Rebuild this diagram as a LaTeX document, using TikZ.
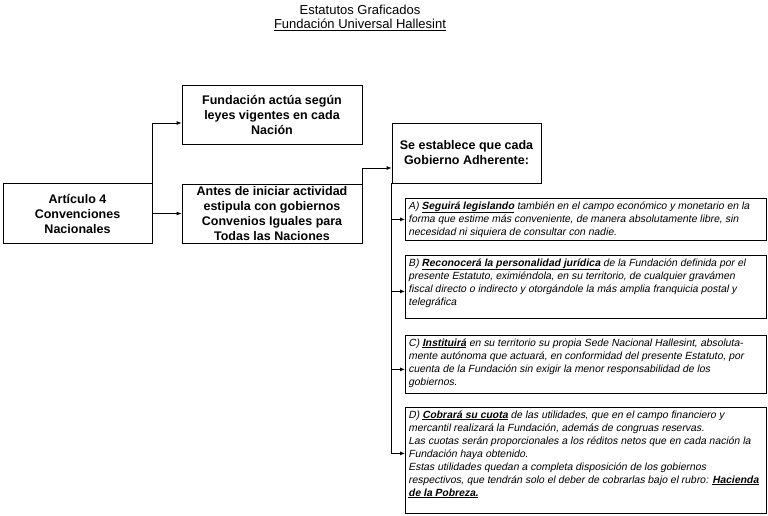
\documentclass[tikz,border=0pt]{standalone}
\usepackage{fontspec}
\setmainfont{Liberation Sans}
\newfontfamily\itemfont{Liberation Sans}[FakeSlant=0.2]
\usetikzlibrary{arrows.meta}
\definecolor{linecol}{HTML}{000000}
\newcommand{\keyw}[1]{\underline{\textbf{#1}}}

\begin{document}
\begin{tikzpicture}[x=1pt,y=-1pt,
	box/.style={draw=linecol,line width=0.8pt,align=center,inner sep=0pt,font=\fontsize{12.5}{15}\selectfont\bfseries},
	itembox/.style={draw=linecol,line width=0.8pt,anchor=north west,inner sep=3pt,font=\fontsize{10.4}{13}\selectfont\itemfont},
	conn/.style={draw=linecol,line width=0.8pt,-{Latex[length=5pt,width=4pt]}}]
\useasboundingbox (0,0) rectangle (768,515);
% title
\node[align=center,font=\fontsize{13}{14}\selectfont] (title) at (360,18) {Estatutos Graficados\\\underline{Fundación Universal Hallesint}};
% left column
\node[box,minimum width=149pt,minimum height=60pt] (art) at (77.5,213.5) {Artículo 4\\Convenciones\\Nacionales};
\node[box,minimum width=180pt,minimum height=59pt] (fund) at (272,114.5) {Fundación actúa según\\leyes vigentes en cada\\Nación};
\node[box,minimum width=180pt,minimum height=59pt] (antes) at (272,213.5) {Antes de iniciar actividad\\estipula con gobiernos\\Convenios Iguales para\\Todas las Naciones};
\node[box,minimum width=149pt,minimum height=60pt] (se) at (466.5,153) {Se establece que cada\\Gobierno Adherente:};
% items
\node[itembox] (itemA) at (405,198) {\parbox[c][36pt][t]{355pt}{%
A) \keyw{Seguirá legislando} también en el campo económico y monetario en la\\
forma que estime más conveniente, de manera absolutamente libre, sin\\
necesidad ni siquiera de consultar con nadie.}};
\node[itembox] (itemB) at (405,255) {\parbox[c][57pt][t]{355pt}{%
B) \keyw{Reconocerá la personalidad jurídica} de la Fundación definida por el\\
presente Estatuto, eximiéndola, en su territorio, de cualquier gravámen\\
fiscal directo o indirecto y otorgándole la más amplia franquicia postal y\\
telegráfica}};
\node[itembox] (itemC) at (405,335) {\parbox[c][52pt][t]{355pt}{%
C) \keyw{Instituirá} en su territorio su propia Sede Nacional Hallesint, absoluta-\\
mente autónoma que actuará, en conformidad del presente Estatuto, por\\
cuenta de la Fundación sin exigir la menor responsabilidad de los\\
gobiernos.}};
\node[itembox] (itemD) at (405,407) {\parbox[c][100pt][t]{355pt}{%
D) \keyw{Cobrará su cuota} de las utilidades, que en el campo financiero y\\
mercantil realizará la Fundación, además de congruas reservas.\\
Las cuotas serán proporcionales a los réditos netos que en cada nación la\\
Fundación haya obtenido.\\
Estas utilidades quedan a completa disposición de los gobiernos\\
respectivos, que tendrán solo el deber de cobrarlas bajo el rubro: \keyw{Hacienda}\\
\keyw{de la Pobreza.}}};
% connectors
\draw[conn] (art.east) -- (antes.west);
\draw[conn] (art.east) |- ([yshift=-8.5pt]fund.west);
\draw[conn] (antes.north east) |- ([yshift=-15pt]se.west);
\draw[conn] (se.south west) |- ([yshift=7pt]itemD.west);
\foreach \nm/\dy in {itemA/0,itemB/-4.5,itemC/-5}{
	\coordinate (tip) at ([yshift=\dy pt]\nm.west);
	\draw[conn] (se.south west |- tip) -- (tip);
}
\end{tikzpicture}
\end{document}
